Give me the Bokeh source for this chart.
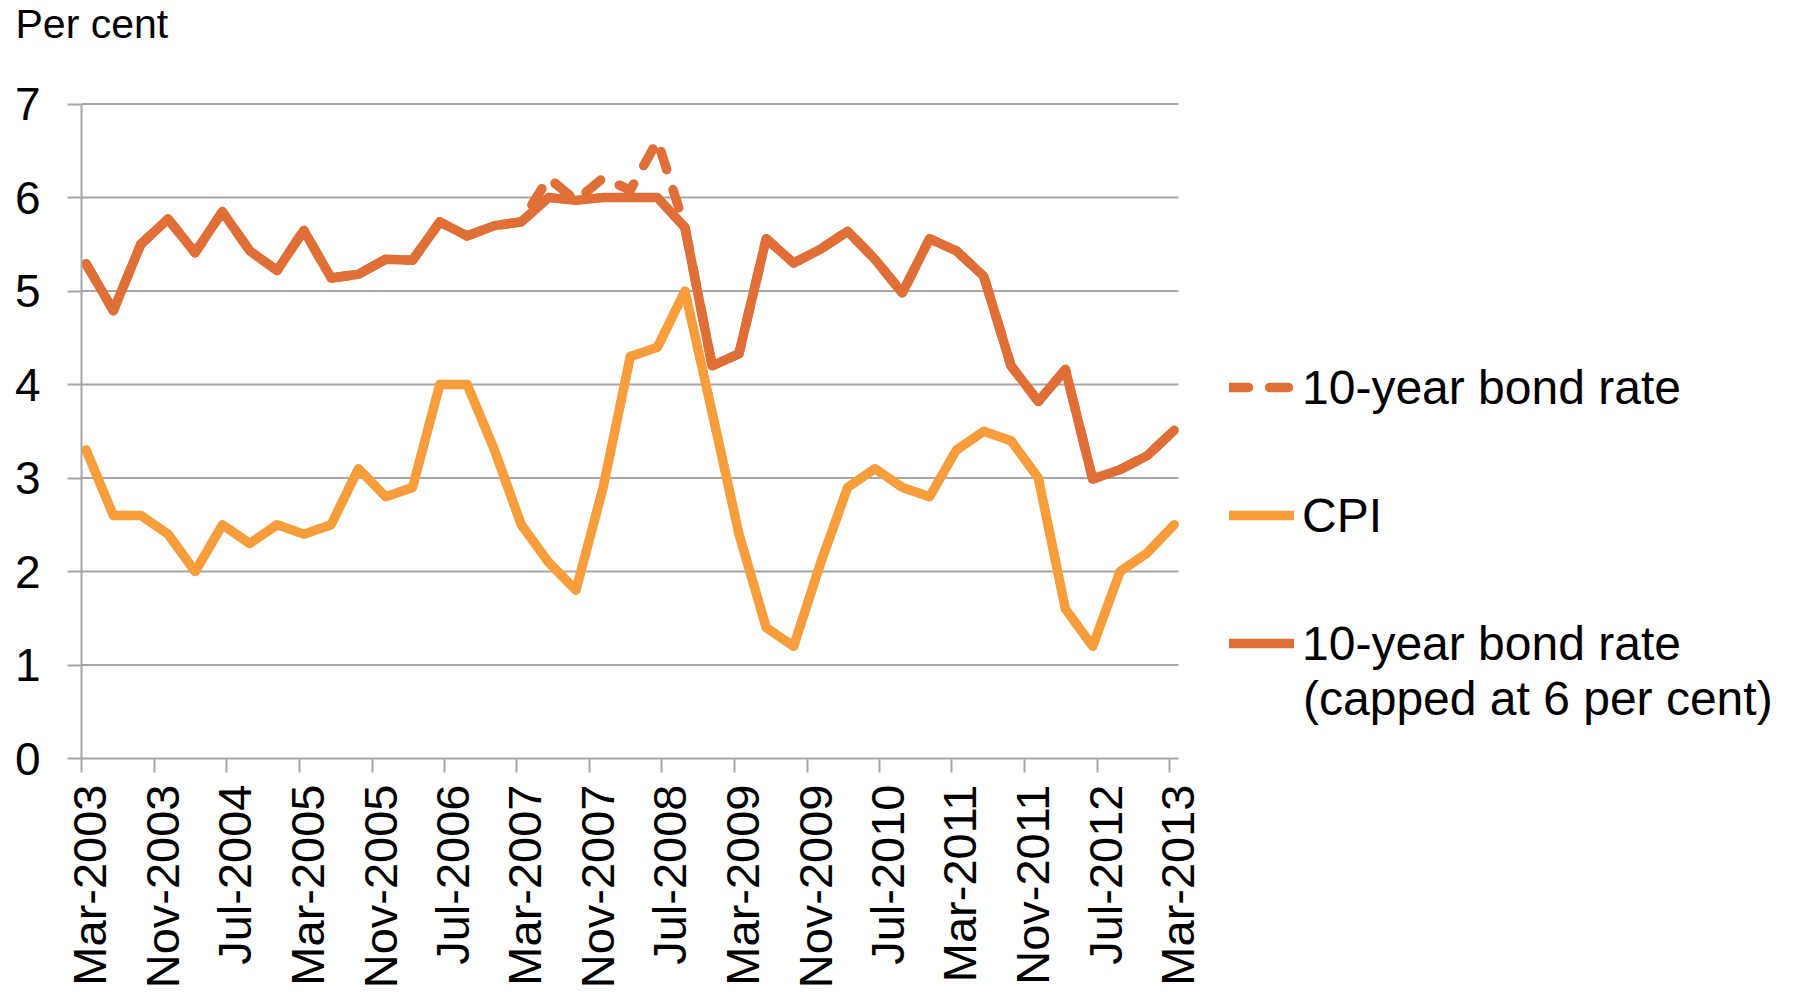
import math
import numpy as np
import pandas as pd
from datetime import datetime, timedelta
from bokeh.plotting import figure
from bokeh.models import (Range1d, FixedTicker, Legend, LegendItem, Label, Title,
                          DatetimeTickFormatter, DatetimeAxis)
from bokeh.embed import file_html
from bokeh.resources import INLINE

# ---------------- data ----------------
quarters = ["Mar-2003", "Jun-2003", "Sep-2003", "Dec-2003",
            "Mar-2004", "Jun-2004", "Sep-2004", "Dec-2004",
            "Mar-2005", "Jun-2005", "Sep-2005", "Dec-2005",
            "Mar-2006", "Jun-2006", "Sep-2006", "Dec-2006",
            "Mar-2007", "Jun-2007", "Sep-2007", "Dec-2007",
            "Mar-2008", "Jun-2008", "Sep-2008", "Dec-2008",
            "Mar-2009", "Jun-2009", "Sep-2009", "Dec-2009",
            "Mar-2010", "Jun-2010", "Sep-2010", "Dec-2010",
            "Mar-2011", "Jun-2011", "Sep-2011", "Dec-2011",
            "Mar-2012", "Jun-2012", "Sep-2012", "Dec-2012",
            "Mar-2013"]

cpi = [3.3, 2.6, 2.6, 2.4, 2.0, 2.5, 2.3, 2.5, 2.4, 2.5, 3.1, 2.8, 2.9, 4.0,
       4.0, 3.3, 2.5, 2.1, 1.8, 2.9, 4.3, 4.4, 5.0, 3.7, 2.4, 1.4, 1.2, 2.1,
       2.9, 3.1, 2.9, 2.8, 3.3, 3.5, 3.4, 3.0, 1.6, 1.2, 2.0, 2.2, 2.5]

bond_rate = [5.29, 4.79, 5.50, 5.77, 5.41, 5.85, 5.43, 5.22, 5.65, 5.14, 5.18,
             5.34, 5.33, 5.74, 5.59, 5.70, 5.74, 6.21, 5.97, 6.21, 6.08, 6.61,
             5.68, 4.20, 4.33, 5.56, 5.30, 5.45, 5.64, 5.34, 4.98, 5.56, 5.43,
             5.16, 4.20, 3.82, 4.16, 2.99, 3.09, 3.24, 3.51]

bond_capped = [5.29, 4.79, 5.50, 5.77, 5.41, 5.85, 5.43, 5.22, 5.65, 5.14, 5.18,
               5.34, 5.33, 5.74, 5.59, 5.70, 5.74, 6.00, 5.97, 6.00, 6.00, 6.00,
               5.68, 4.20, 4.33, 5.56, 5.30, 5.45, 5.64, 5.34, 4.98, 5.56, 5.43,
               5.16, 4.20, 3.82, 4.16, 2.99, 3.09, 3.24, 3.51]

x_tick_labels = ["Mar-2003", "Nov-2003", "Jul-2004", "Mar-2005", "Nov-2005",
                 "Jul-2006", "Mar-2007", "Nov-2007", "Jul-2008", "Mar-2009",
                 "Nov-2009", "Jul-2010", "Mar-2011", "Nov-2011", "Jul-2012",
                 "Mar-2013"]
y_ticks = [0, 1, 2, 3, 4, 5, 6, 7]
grid_levels = [1, 2, 3, 4, 5, 6, 7]

series_names = ["10-year bond rate", "CPI", "10-year bond rate", "(capped at 6 per cent)"]
y_title = "Per cent"

# ---------------- styling / layout ----------------
BOND_C = "#E06E37"
CPI_C = "#F79D3C"
GRID_C = "#a6a6a6"
FONT = "Liberation Sans"
LW = 9.5

axis_start = datetime(2003, 3, 1)
axis_end = datetime(2013, 3, 31)
PX_PER_DAY = 1088.0 / 3653.0          # horizontal scale of the date axis
PX_PER_UNIT = 654.4 / 7.0             # vertical scale
LABEL_SHIFT_PX = 8                    # tick labels sit a little right of their tick

FRAME_W = 1713
FRAME_H = 656
x_end = axis_start + timedelta(days=FRAME_W / PX_PER_DAY)
y_end = FRAME_H / PX_PER_UNIT

# each quarterly point sits in the middle of its month
month_starts = [pd.to_datetime(q, format="%b-%Y") for q in quarters]
dates = pd.DatetimeIndex([d + pd.Timedelta(days=d.days_in_month / 2.0) for d in month_starts])
tick_dates = [pd.to_datetime(t, format="%b-%Y") for t in x_tick_labels]
tick_ms = [int(d.value // 10**6) for d in tick_dates]
shift_ms = int(LABEL_SHIFT_PX / PX_PER_DAY * 86400000)
label_ms = [ms + shift_ms for ms in tick_ms]

p = figure(
    x_axis_type="datetime",
    x_range=Range1d(axis_start, x_end),
    y_range=Range1d(0, y_end),
    frame_width=FRAME_W, frame_height=FRAME_H,
    min_border_left=81, min_border_top=0, min_border_right=0, min_border_bottom=0,
    output_backend="svg", toolbar_location=None,
    background_fill_color="white", border_fill_color="white",
)
p.outline_line_color = None
p.xgrid.visible = False
p.ygrid.visible = False

# horizontal gridlines limited to the date-axis extent
p.segment(x0=[axis_start] * len(grid_levels), x1=[axis_end] * len(grid_levels),
          y0=grid_levels, y1=grid_levels, line_color=GRID_C, line_width=2)

# lines
r_bond = p.line(dates, bond_rate, line_color=BOND_C, line_width=LW, line_dash="19 21",
                line_cap="round", line_join="round")
r_cpi = p.line(dates, cpi, line_color=CPI_C, line_width=LW,
               line_cap="round", line_join="round")
r_cap = p.line(dates, bond_capped, line_color=BOND_C, line_width=LW,
               line_cap="round", line_join="round")

# x axis: line + tick marks (labels blank)
xa = p.xaxis[0]
xa.bounds = (axis_start, axis_end)
xa.ticker = FixedTicker(ticks=tick_ms)
xa.major_label_overrides = {ms: "" for ms in tick_ms}
xa.major_label_standoff = 0
xa.axis_line_color = GRID_C
xa.axis_line_width = 2
xa.major_tick_line_color = GRID_C
xa.major_tick_line_width = 2
xa.major_tick_out = 14
xa.major_tick_in = 0
xa.minor_tick_line_color = None

# x axis tick labels (rotated, reading upwards)
xl = DatetimeAxis(
    ticker=FixedTicker(ticks=label_ms),
    formatter=DatetimeTickFormatter(days="%b-%Y", months="%b-%Y", years="%b-%Y"),
    major_label_overrides={ms: lab for ms, lab in zip(label_ms, x_tick_labels)},
    major_label_orientation=math.pi / 2,
    major_label_text_font=FONT, major_label_text_font_size="47px",
    major_label_text_color="black", major_label_standoff=12,
    axis_line_color=None, major_tick_line_color=None, minor_tick_line_color=None,
    major_tick_out=0, major_tick_in=0, minor_tick_out=0, minor_tick_in=0,
)
p.add_layout(xl, "below")

# y axis
ya = p.yaxis[0]
ya.bounds = (0, 7)
ya.ticker = FixedTicker(ticks=y_ticks)
ya.major_label_text_font = FONT
ya.major_label_text_font_size = "46px"
ya.major_label_text_color = "black"
ya.major_label_standoff = 27
ya.axis_line_color = GRID_C
ya.axis_line_width = 2
ya.major_tick_line_color = GRID_C
ya.major_tick_line_width = 2
ya.major_tick_out = 14
ya.major_tick_in = 0
ya.minor_tick_line_color = None

# legend (inside the widened frame, to the right of the data area)
legend = Legend(
    items=[LegendItem(label=series_names[0], renderers=[r_bond]),
           LegendItem(label=series_names[1], renderers=[r_cpi]),
           LegendItem(label=series_names[2], renderers=[r_cap])],
    location=(1148, 87), orientation="vertical",
    glyph_width=65, glyph_height=56, label_height=56, label_standoff=8,
    spacing=72, padding=0, margin=0,
    border_line_color=None, background_fill_alpha=0,
    label_text_font=FONT, label_text_font_size="48px", label_text_color="black",
)
p.add_layout(legend)

p.add_layout(Label(x=1221.5, y=60, x_units="screen", y_units="screen",
                   text=series_names[3], text_font=FONT, text_font_size="48px",
                   text_baseline="middle", text_align="left", text_color="black"))

# "Per cent" at the top-left, with a blank spacer panel between it and the plot area
p.title.text = ""
spacer = Title(text=" ", text_font_size="10px", standoff=41)
title = Title(text=y_title, text_font=FONT, text_font_size="41px", text_font_style="normal",
              text_color="black", align="left", vertical_align="top", offset=-66, standoff=0)
p.add_layout(spacer, "above")
p.add_layout(title, "above")

open("out.html", "w").write(file_html(p, INLINE))
